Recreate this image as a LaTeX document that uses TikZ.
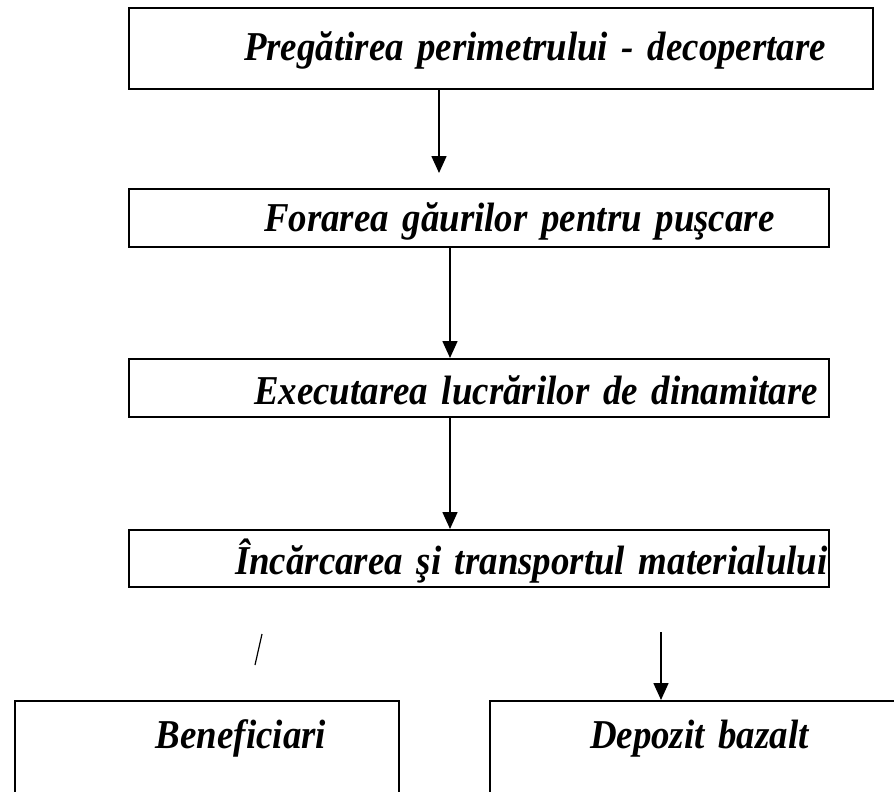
\documentclass[tikz,border=0pt]{standalone}
\usepackage{fontspec}
\setmainfont{Liberation Serif}[WordSpace=0.5, FakeStretch=0.9]
\usetikzlibrary{positioning,calc,arrows.meta}

\begin{document}
\begin{tikzpicture}[x=1pt, y=-1pt,
  stepbox/.style={draw, line width=2pt, anchor=north west, inner sep=0pt,
    align=left, font=\fontsize{41pt}{44pt}\selectfont\bfseries\itshape},
  flow/.style={line width=1.6pt, -{Triangle[length=17pt,width=15pt]}}]
\clip[use as bounding box] (0,0) rectangle (894,792);

\node[stepbox, text width=744pt, text height=53pt, text depth=28pt] (prep) at (128,7)
  {\hspace*{115pt}\mbox{Pregătirea perimetrului - decopertare}};
\node[stepbox, text width=700pt, text height=42pt, text depth=16pt] (drill) at (128,188)
  {\hspace*{135pt}\mbox{Forarea găurilor pentru puşcare}};
\node[stepbox, text width=700pt, text height=45pt, text depth=13pt] (blast) at (128,358)
  {\hspace*{125pt}\mbox{Executarea lucrărilor de dinamitare}};
\node[stepbox, text width=700pt, text height=44pt, text depth=13pt] (load) at (128,529)
  {\hspace*{106pt}\mbox{Încărcarea şi transportul materialului}};
\node[stepbox, text width=384pt, text height=47pt, text depth=100pt] (client) at (14,700)
  {\hspace*{141pt}\mbox{Beneficiari}};
\node[stepbox, text width=430pt, text height=47pt, text depth=100pt] (store) at (489,700)
  {\hspace*{100pt}\mbox{Depozit bazalt}};

% arrows between the steps
\coordinate (c1) at (439,0);
\coordinate (c2) at (450,0);
\coordinate (c4) at (661,0);
\draw[flow, shorten >=15pt] (prep.south -| c1) -- (drill.north -| c1);
\draw[flow] (drill.south -| c2) -- (blast.north -| c2);
\draw[flow] (blast.south -| c2) -- (load.north -| c2);
\draw[flow, shorten <=44pt] (load.south -| c4) -- (store.north -| c4);

% short stroke towards the clients
\coordinate (s1) at (262,634);
\coordinate (s2) at (255,665);
\draw[line width=1.2pt] (s1) -- (s2);
\end{tikzpicture}
\end{document}
